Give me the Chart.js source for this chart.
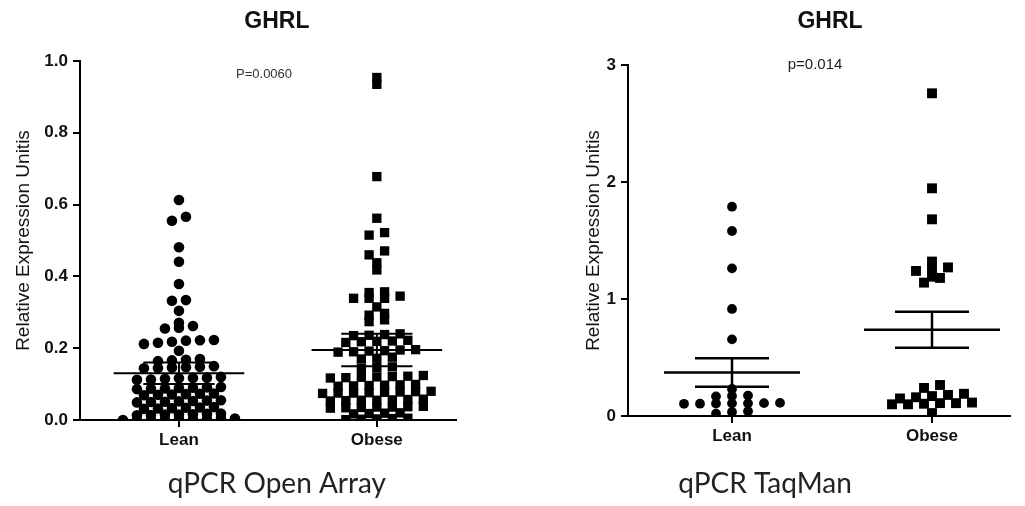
<!DOCTYPE html>
<html>
<head>
<meta charset="utf-8">
<title>GHRL expression</title>
<script src="https://cdn.jsdelivr.net/npm/chart.js@4.4.1/dist/chart.umd.min.js"></script>
<style>
  html, body { margin: 0; padding: 0; background: #fff; }
  #wrap { position: relative; width: 1025px; height: 506px; }
  .panel { position: absolute; top: 0; height: 506px; }
  #panelA { left: 0; width: 512px; }
  #panelB { left: 512px; width: 513px; }
</style>
</head>
<body>
<div id="wrap">
  <div class="panel" id="panelA"><canvas id="chartA"></canvas></div>
  <div class="panel" id="panelB"><canvas id="chartB"></canvas></div>
</div>
<script>
const groups = ['Lean', 'Obese'];

// qPCR Open Array, relative expression per sample
const leanOA = [
  0.000, 0.000, 0.001, 0.001, 0.002, 0.002, 0.003, 0.004, 0.004,
  0.013, 0.014, 0.015, 0.015, 0.016, 0.017, 0.018,
  0.031, 0.032, 0.033, 0.034, 0.035, 0.036,
  0.049, 0.050, 0.051, 0.052, 0.053, 0.054, 0.055,
  0.069, 0.070, 0.071, 0.072, 0.073, 0.074,
  0.086, 0.087, 0.088, 0.089, 0.090, 0.091, 0.092,
  0.112, 0.113, 0.115, 0.116, 0.117, 0.118, 0.120,
  0.144, 0.145, 0.146, 0.147, 0.148, 0.150,
  0.164, 0.166, 0.168, 0.170,
  0.193,
  0.212, 0.215, 0.218, 0.221, 0.223, 0.222,
  0.255, 0.257, 0.262, 0.271,
  0.304, 0.332, 0.334, 0.379, 0.441, 0.481, 0.555, 0.566, 0.613
];
const obeseOA = [
  0.001, 0.002, 0.003, 0.004, 0.005,
  0.017, 0.018, 0.019, 0.020,
  0.033, 0.034, 0.035, 0.036, 0.036, 0.037, 0.038,
  0.053, 0.054, 0.055, 0.055, 0.056, 0.057, 0.058,
  0.074, 0.075, 0.075, 0.076, 0.077, 0.078, 0.079, 0.080,
  0.094, 0.095, 0.096, 0.097, 0.098, 0.099,
  0.117, 0.118, 0.119, 0.120, 0.121, 0.122, 0.124,
  0.144, 0.146, 0.148,
  0.170, 0.172, 0.175,
  0.189, 0.190, 0.192, 0.193, 0.195, 0.196,
  0.216, 0.218, 0.219, 0.220, 0.222,
  0.235, 0.236, 0.238, 0.240,
  0.274, 0.279, 0.292, 0.297, 0.315,
  0.339, 0.339, 0.339, 0.345, 0.355, 0.357,
  0.418, 0.438, 0.460, 0.471, 0.515, 0.522, 0.562, 0.678, 0.935, 0.954
];
const meanOA = [0.130, 0.195];
const errOA = [0.030, 0.045];

// qPCR TaqMan, relative expression per sample
const leanTM = [
  0.020, 0.035, 0.040,
  0.104, 0.105, 0.107, 0.108, 0.108, 0.110, 0.112,
  0.168, 0.171, 0.175,
  0.231, 0.655, 0.915, 1.262, 1.581, 1.789
];
const obeseTM = [
  0.025,
  0.100, 0.100, 0.105, 0.110, 0.110, 0.115,
  0.150, 0.160, 0.170, 0.180, 0.190,
  0.240, 0.265,
  1.140, 1.180, 1.190, 1.240, 1.260, 1.270, 1.320,
  1.681, 1.946, 2.758
];
const meanTM = [0.372, 0.738];
const errTM = [0.121, 0.154];

const yTicksOA = [0, 0.2, 0.4, 0.6, 0.8, 1.0];
const yTicksTM = [0, 1, 2, 3];

const SANS = '"Liberation Sans", Arial, Helvetica, sans-serif';
const CAPTION = '28px Lato, "Open Sans", sans-serif';

// Spread the values of one group into rows, GraphPad style
function dotRows(values, center, chart, spacingPx, rowPx) {
  const xs = chart.scales.x, ys = chart.scales.y;
  const pxPerX = xs.getPixelForValue(1) - xs.getPixelForValue(0);
  const sorted = values.slice().sort((a, b) => a - b);
  const rows = [];
  let row = null;
  sorted.forEach(v => {
    const py = ys.getPixelForValue(v);
    if (!row || row.start - py > rowPx) {
      row = { start: py, vals: [] };
      rows.push(row);
    }
    row.vals.push(v);
  });
  const pts = [];
  rows.forEach(r => {
    const n = r.vals.length;
    r.vals.forEach((v, i) => {
      pts.push({ x: center + (i - (n - 1) / 2) * spacingPx / pxPerX, y: v });
    });
  });
  return pts;
}

// mean line plus error bar for each group, as one broken line
function summaryData(means, errs, halfMean, halfCap) {
  const d = [];
  means.forEach((m, i) => {
    const c = i + 1, hi = m + errs[i], lo = m - errs[i];
    d.push({ x: c - halfMean, y: m }, { x: c + halfMean, y: m }, { x: c, y: null });
    d.push({ x: c - halfCap, y: hi }, { x: c + halfCap, y: hi }, { x: c, y: null });
    d.push({ x: c - halfCap, y: lo }, { x: c + halfCap, y: lo }, { x: c, y: null });
    d.push({ x: c, y: lo }, { x: c, y: hi }, { x: c, y: null });
  });
  return d;
}

const panelText = {
  id: 'panelText',
  afterDraw(chart, args, opts) {
    const { ctx, scales: { x, y } } = chart;
    (opts.items || []).forEach(t => {
      ctx.save();
      ctx.font = t.font;
      ctx.fillStyle = t.color || '#111';
      ctx.textAlign = 'center';
      ctx.textBaseline = 'middle';
      const px = x.getPixelForValue(t.x);
      const py = t.y !== undefined ? y.getPixelForValue(t.y) : t.py;
      ctx.fillText(t.text, px, py);
      ctx.restore();
    });
  }
};

function buildChart(id, cfg) {
  const axisLine = { display: true, color: '#000', width: 2 };
  const tickMarks = { drawOnChartArea: false, drawTicks: true, tickLength: 7, color: '#000', lineWidth: 2 };
  const tickFont = { family: SANS, size: 17, weight: 'bold' };

  const chart = new Chart(document.getElementById(id), {
    type: 'scatter',
    data: { datasets: [] },
    options: {
      responsive: true,
      maintainAspectRatio: false,
      animation: false,
      layout: { padding: cfg.padding },
      plugins: {
        legend: { display: false },
        tooltip: { enabled: false },
        panelText: { items: cfg.texts }
      },
      scales: {
        x: {
          type: 'linear',
          min: cfg.xMin,
          max: cfg.xMax,
          afterBuildTicks: s => { s.ticks = groups.map((g, i) => ({ value: i + 1 })); },
          afterFit: s => { s.height = cfg.xAxisHeight; },
          ticks: {
            callback: v => groups[v - 1],
            font: tickFont,
            color: '#111',
            padding: 3,
            maxRotation: 0,
            autoSkip: false
          },
          grid: tickMarks,
          border: axisLine
        },
        y: {
          min: 0,
          max: cfg.yMax,
          afterBuildTicks: s => { s.ticks = cfg.yTicks.map(v => ({ value: v })); },
          afterFit: s => { s.width = cfg.yAxisWidth; },
          ticks: {
            callback: cfg.yFmt,
            font: tickFont,
            color: '#111',
            padding: 5
          },
          grid: tickMarks,
          border: axisLine,
          title: {
            display: true,
            text: 'Relative Expression Unitis',
            font: { family: SANS, size: 19 },
            color: '#111',
            padding: { top: cfg.yTitlePad, bottom: 0 }
          }
        }
      }
    },
    plugins: [panelText]
  });

  chart.data.datasets = [
    {
      type: 'line',
      data: summaryData(cfg.means, cfg.errs, cfg.halfMean, cfg.halfCap),
      borderColor: '#000',
      borderWidth: cfg.lineWidth,
      pointRadius: 0,
      spanGaps: false,
      fill: false
    },
    {
      data: dotRows(cfg.lean, 1, chart, cfg.spacing[0], cfg.rowPx),
      pointStyle: 'circle',
      pointRadius: cfg.radius[0],
      backgroundColor: '#000',
      borderWidth: 0
    },
    {
      data: dotRows(cfg.obese, 2, chart, cfg.spacing[1], cfg.rowPx),
      pointStyle: 'rect',
      pointRadius: cfg.radius[1],
      backgroundColor: '#000',
      borderWidth: 0
    }
  ];
  chart.update('none');
  return chart;
}

buildChart('chartA', {
  lean: leanOA, obese: obeseOA, means: meanOA, errs: errOA,
  xMin: 0.5, xMax: 2.4, yMax: 1.0, yTicks: yTicksOA,
  yFmt: v => v.toFixed(1),
  padding: { top: 61, right: 56, bottom: 0, left: 0 },
  yAxisWidth: 80, xAxisHeight: 86, yTitlePad: 12,
  halfMean: 0.33, halfCap: 0.18, lineWidth: 2,
  spacing: [14, 15.5], radius: [5.3, 6.6], rowPx: 4,
  texts: [
    { text: 'GHRL', x: 1.495, py: 22, font: `bold 23px ${SANS}` },
    { text: 'P=0.0060', x: 1.43, y: 0.963, font: `13px ${SANS}`, color: '#333' },
    { text: 'qPCR Open Array', x: 1.495, py: 484, font: CAPTION, color: '#222' }
  ]
});

buildChart('chartB', {
  lean: leanTM, obese: obeseTM, means: meanTM, errs: errTM,
  xMin: 0.48, xMax: 2.39, yMax: 3, yTicks: yTicksTM,
  yFmt: v => String(v),
  padding: { top: 65, right: 15, bottom: 0, left: 0 },
  yAxisWidth: 116, xAxisHeight: 90, yTitlePad: 70,
  halfMean: 0.34, halfCap: 0.185, lineWidth: 2.5,
  spacing: [16, 16], radius: [4.9, 7], rowPx: 5,
  texts: [
    { text: 'GHRL', x: 1.49, py: 22, font: `bold 23px ${SANS}` },
    { text: 'p=0.014', x: 1.415, y: 3.0, font: `15px ${SANS}`, color: '#222' },
    { text: 'qPCR TaqMan', x: 1.165, py: 484, font: CAPTION, color: '#222' }
  ]
});
</script>
</body>
</html>
